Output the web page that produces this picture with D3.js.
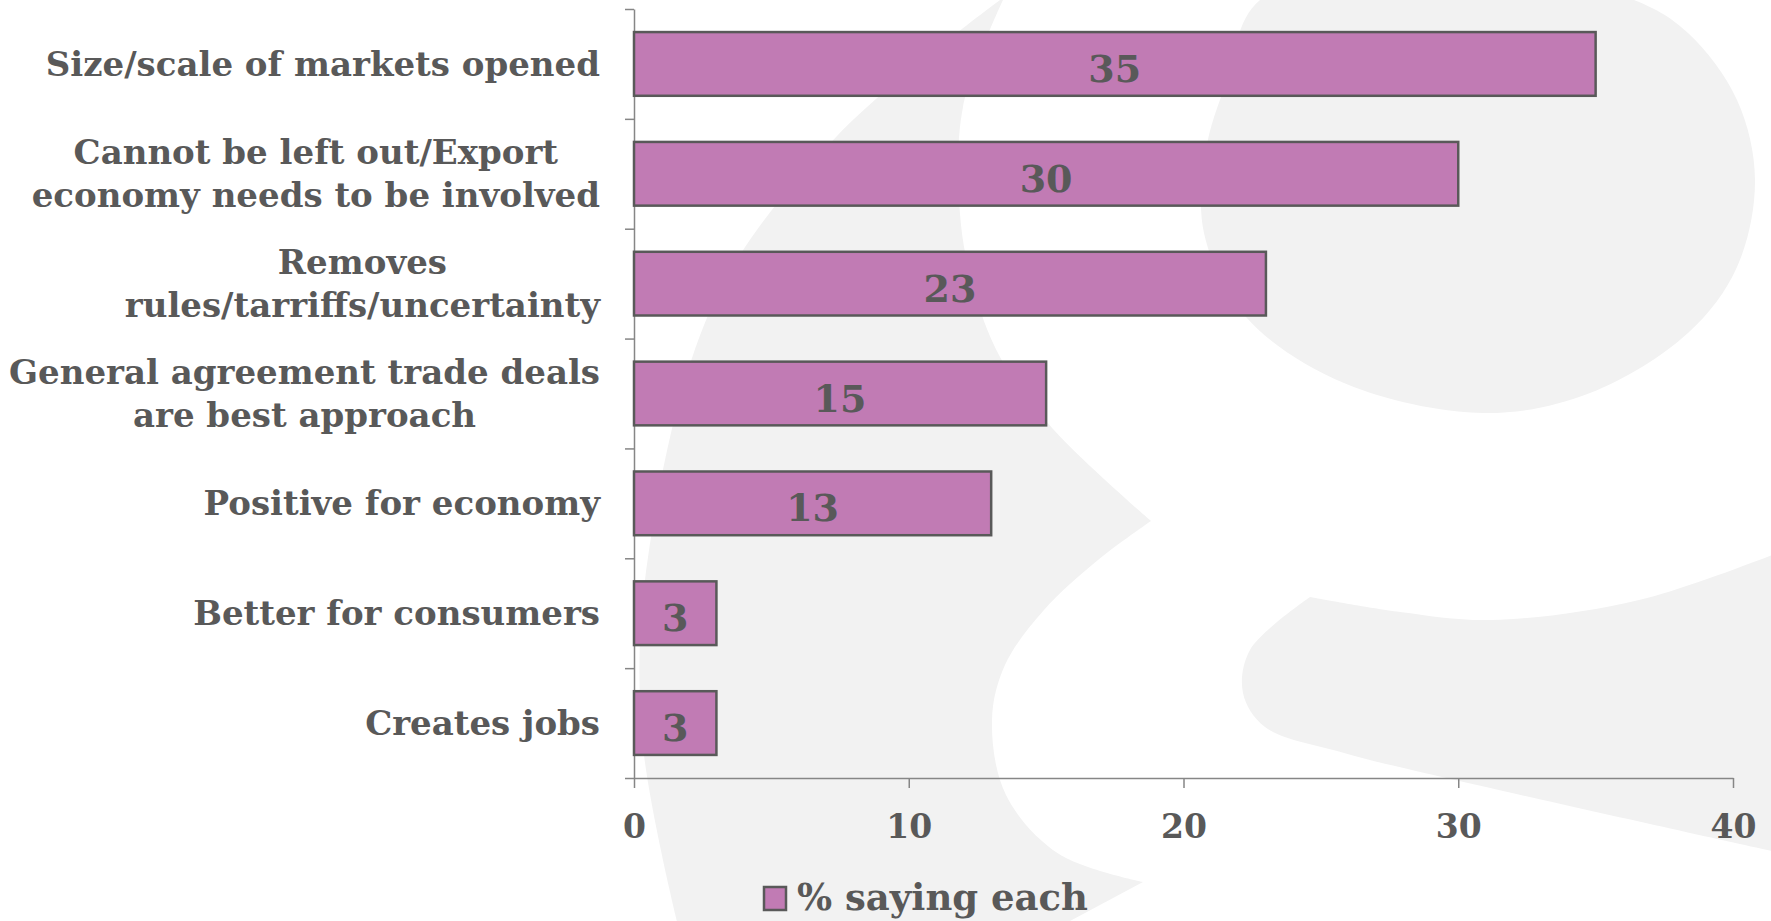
<!DOCTYPE html>
<html>
<head>
<meta charset="utf-8">
<script src="https://cdn.jsdelivr.net/npm/d3@7"></script>
<style>
  html, body { margin: 0; padding: 0; background: #ffffff; }
  svg { display: block; }
  .lbl { font-family: "DejaVu Serif", serif; font-weight: bold; fill: #595959; }
</style>
</head>
<body>
<svg id="chart" width="1771" height="921"></svg>
<script>
// ---- data ----
const categories = [
  ["Size/scale of markets opened"],
  ["Cannot be left out/Export", "economy needs to be involved"],
  ["Removes", "rules/tarriffs/uncertainty"],
  ["General agreement trade deals", "are best approach"],
  ["Positive for economy"],
  ["Better for consumers"],
  ["Creates jobs"]
];
const values = [35, 30, 23, 15, 13, 3, 3];
const xTicks = [0, 10, 20, 30, 40];
const seriesName = "% saying each";

// ---- decorative background shapes (watermark) ----
const crescentSegs = [
  [[1000,0],[837,136],[715,300],[648,557],[642,736],[677,921]],
  [[677,921],[1070,921]],
  [[1070,921],[1143,882]],
  [[1143,882],[1059,854],[1006,795],[992,720],[1005,665],[1044,610],[1098,560],[1151,521]],
  [[1151,521],[1053,429],[1000,357],[973,286],[960,214],[963,107],[1003,0]]
];
const swooshSegs = [
  [[1310,597],[1400,612],[1492,620],[1639,600],[1790,548]],
  [[1790,548],[1790,855]],
  [[1790,855],[1442,777],[1344,753],[1265,727],[1243,693],[1250,650],[1310,597]]
];
const eggPts = [[1260,0],[1226,83],[1206,150],[1204,233],[1246,317],[1344,383],[1484,413],[1590,393],[1688,333],[1737,267],[1755,180],[1737,100],[1688,33],[1634,0],[1450,-40]];

const svg = d3.select("#chart");
const bg = "#F2F2F2";
const ink = "#595959";
const barFill = "#C17BB4";
const axisCol = "#868686";

function segPath(segs) {
  const line = d3.line().curve(d3.curveCatmullRom.alpha(0.5));
  let d = "";
  segs.forEach((s, i) => {
    let p = s.length > 2 ? line(s) : d3.line()(s);
    if (i > 0) p = p.replace(/^M[^A-Za-z]*/, "");
    d += p;
  });
  return d + "Z";
}
svg.append("path").attr("d", segPath(crescentSegs)).attr("fill", bg);
svg.append("path").attr("d", segPath(swooshSegs)).attr("fill", bg);
svg.append("path").attr("d", d3.line().curve(d3.curveCatmullRomClosed.alpha(0.5))(eggPts)).attr("fill", bg);

// ---- scales ----
const x = d3.scaleLinear().domain([0, 40]).range([634, 1733]);
const y = d3.scaleBand().domain(d3.range(categories.length)).range([9, 778]).paddingInner(0.42).paddingOuter(0.21);
const yEdges = d3.scaleLinear().domain([0, categories.length]).range([9, 778]);

// ---- axes ----
const gy = svg.append("g").attr("transform", "translate(634,0)")
  .call(d3.axisLeft(yEdges).tickValues(d3.range(categories.length + 1)).tickFormat("").tickSize(9).tickSizeOuter(0));
const gx = svg.append("g").attr("transform", "translate(0,778)")
  .call(d3.axisBottom(x).tickValues(xTicks).tickSize(10).tickSizeOuter(0));
[gx, gy].forEach(g => {
  g.selectAll("path,line").attr("stroke", axisCol).attr("stroke-width", 1.5);
});
gx.selectAll("text").attr("class", "lbl").attr("fill", ink)
  .style("font-size", "33px").attr("dy", null).attr("y", 60);

// ---- bars ----
svg.append("g").selectAll("rect").data(values).join("rect")
  .attr("x", x(0))
  .attr("y", (d, i) => y(i))
  .attr("width", d => x(d) - x(0))
  .attr("height", y.bandwidth())
  .attr("fill", barFill)
  .attr("stroke", ink)
  .attr("stroke-width", 2.5);

// ---- value labels ----
svg.append("g").selectAll("text").data(values).join("text")
  .attr("class", "lbl")
  .attr("x", d => (x(0) + x(d)) / 2)
  .attr("y", (d, i) => y(i) + y.bandwidth() / 2 + 18)
  .attr("text-anchor", "middle")
  .style("font-size", "38px")
  .text(d => d);

// ---- category labels (centered block, right-aligned at 600) ----
const lineH = 43;
const cg = svg.append("g");
categories.forEach((lines, i) => {
  const g = cg.append("g");
  const cy = y(i) + y.bandwidth() / 2;
  const texts = lines.map((t, k) => g.append("text")
    .attr("class", "lbl").style("font-size", "34px")
    .attr("text-anchor", "middle")
    .attr("y", cy + 12 + (k - (lines.length - 1) / 2) * lineH)
    .text(t));
  const maxW = d3.max(texts, t => t.node().getComputedTextLength());
  texts.forEach(t => t.attr("x", 600 - maxW / 2));
});

// ---- legend ----
const lg = svg.append("g");
lg.append("rect").attr("x", 764).attr("y", 887).attr("width", 22).attr("height", 23)
  .attr("fill", barFill).attr("stroke", ink).attr("stroke-width", 2.5);
lg.append("text").attr("class", "lbl").attr("x", 797).attr("y", 910)
  .style("font-size", "37px").text(seriesName);
</script>
</body>
</html>
